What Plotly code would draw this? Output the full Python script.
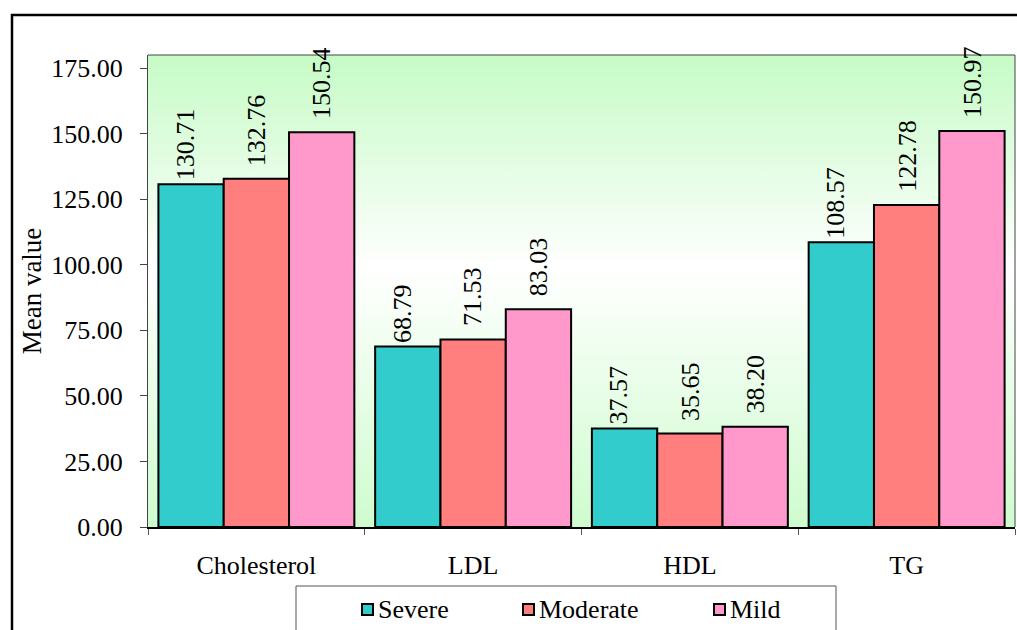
import base64
import plotly.graph_objects as go

# Mean lipid values per severity group
categories = ["Cholesterol", "LDL", "HDL", "TG"]
severe = [130.71, 68.79, 37.57, 108.57]
moderate = [132.76, 71.53, 35.65, 122.78]
mild = [150.54, 83.03, 38.20, 150.97]
y_ticks = [0, 25, 50, 75, 100, 125, 150, 175]

# name, values, fill colour, value-label offsets (dx, dy in px)
series = [
    ("Severe", severe, "#33CCCC", (-6, 2)),
    ("Moderate", moderate, "#FF7F7F", (0, 11)),
    ("Mild", mild, "#FF99CC", (0, 11)),
]

FONT = "Liberation Serif, Times New Roman, serif"

# plot-area geometry in pixels (figure is 1017 x 630)
W, H = 1017, 630
L, R, T, B = 148, 2, 55, 103
PW, PH = W - L - R, H - T - B
BARGAP = 0.096
BAR_PX = PW / len(categories) * (1 - BARGAP) / len(series)


def px_x(px):
    return (px - L) / PW


def px_y(py):
    return (H - B - py) / PH


fig = go.Figure()
annotations = []
for i, (name, vals, color, (dx, dy)) in enumerate(series):
    fig.add_trace(go.Bar(
        name=name,
        x=categories,
        y=vals,
        marker=dict(color=color, line=dict(color="black", width=2)),
        showlegend=False,
    ))
    # rotated value labels above each bar
    for cat, v in zip(categories, vals):
        annotations.append(dict(
            x=cat, y=v, xref="x", yref="y",
            xshift=(i - 1) * BAR_PX + dx, yshift=dy,
            text=f"{v:.2f}", textangle=-90,
            xanchor="center", yanchor="bottom", showarrow=False,
            font=dict(family=FONT, size=26, color="black"),
        ))

# vertical green-white-green wash behind the bars
svg = (
    '<svg xmlns="http://www.w3.org/2000/svg" width="10" height="100" preserveAspectRatio="none">'
    '<defs><linearGradient id="g" x1="0" y1="0" x2="0" y2="1">'
    '<stop offset="0" stop-color="#c6fbc6"/>'
    '<stop offset="0.45" stop-color="#ffffff"/>'
    '<stop offset="1" stop-color="#cefcce"/>'
    '</linearGradient></defs>'
    '<rect width="10" height="100" fill="url(#g)"/></svg>'
)
bg_src = "data:image/svg+xml;base64," + base64.b64encode(svg.encode()).decode()

shapes = [
    # plot area border (top and right)
    dict(type="line", xref="paper", yref="paper", x0=0, x1=1, y0=1, y1=1,
         line=dict(color="#444444", width=1)),
    dict(type="line", xref="paper", yref="paper", x0=1, x1=1, y0=0, y1=1,
         line=dict(color="#444444", width=1)),
    # chart frame
    dict(type="rect", xref="paper", yref="paper",
         x0=px_x(12), x1=px_x(1100), y0=px_y(700), y1=px_y(15),
         line=dict(color="black", width=2.5)),
    # legend box
    dict(type="rect", xref="paper", yref="paper",
         x0=px_x(296), x1=px_x(836), y0=px_y(660), y1=px_y(586),
         line=dict(color="#555555", width=1), fillcolor="white"),
]

# legend entries: swatch + label
legend_x = [362, 523, 714]
legend_cy = 609
for (name, _, color, _), lx in zip(series, legend_x):
    shapes.append(dict(
        type="rect", xref="paper", yref="paper",
        x0=px_x(lx), x1=px_x(lx + 11),
        y0=px_y(legend_cy + 6), y1=px_y(legend_cy - 5),
        fillcolor=color, line=dict(color="black", width=2),
    ))
    annotations.append(dict(
        xref="paper", yref="paper", x=px_x(lx + 14), y=px_y(legend_cy),
        xanchor="left", yanchor="middle", showarrow=False,
        text=name, font=dict(family=FONT, size=26, color="black"),
    ))

fig.update_layout(
    width=W,
    height=H,
    margin=dict(l=L, r=R, t=T, b=B),
    paper_bgcolor="white",
    plot_bgcolor="white",
    barmode="group",
    bargap=BARGAP,
    bargroupgap=0,
    showlegend=False,
    font=dict(family=FONT, size=26, color="black"),
    images=[dict(
        source=bg_src, xref="paper", yref="paper", x=0, y=1,
        sizex=1, sizey=1, sizing="stretch", layer="below",
        xanchor="left", yanchor="top",
    )],
    xaxis=dict(
        type="category",
        tickson="boundaries",
        ticks="outside", ticklen=6, tickcolor="#555555",
        showline=True, linecolor="black", linewidth=1.5,
        showgrid=False,
        ticklabelstandoff=14,
        tickfont=dict(family=FONT, size=26),
    ),
    yaxis=dict(
        range=[0, 180],
        tickvals=y_ticks,
        tickformat=".2f",
        ticks="outside", ticklen=7, tickcolor="#444444",
        showline=True, linecolor="#444444", linewidth=1,
        showgrid=False, zeroline=False,
        ticklabelstandoff=12,
        tickfont=dict(family=FONT, size=26),
        title=dict(text="Mean value", font=dict(family=FONT, size=27), standoff=1),
    ),
    shapes=shapes,
    annotations=annotations,
)

fig.write_html("out.html")
